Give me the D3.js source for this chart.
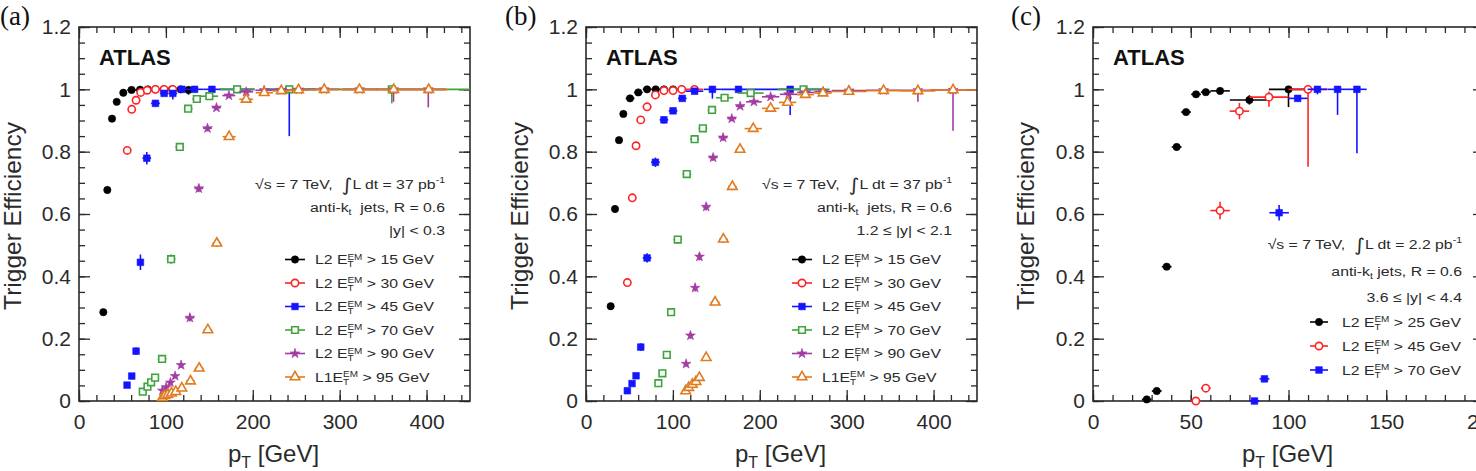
<!DOCTYPE html>
<html><head><meta charset="utf-8">
<script src="https://cdn.jsdelivr.net/npm/d3@7"></script>
<style>
body{margin:0;background:#fff;}
svg{display:block;font-family:"Liberation Sans",Arial,Helvetica,sans-serif;}
text{white-space:pre;}
</style></head><body>
<svg id="chart" width="1476" height="471"></svg>
<script>
// ---------------- tick labels ----------------
const yTicks = [0, 0.2, 0.4, 0.6, 0.8, 1, 1.2];
const yTickLabels = ["0", "0.2", "0.4", "0.6", "0.8", "1", "1.2"];
const abXTicks = [0, 100, 200, 300, 400];
const abXTickLabels = ["0", "100", "200", "300", "400"];
const cXTicks = [0, 50, 100, 150, 200];
const cXTickLabels = ["0", "50", "100", "150", "200"];

// ---------------- legend ----------------
const abLevels = ["L2", "L2", "L2", "L2", "L2", "L1"];
const abThresholds = [15, 30, 45, 70, 90, 95];
const cLevels = ["L2", "L2", "L2"];
const cThresholds = [25, 45, 70];

// ---------------- panel (a) |y|<0.3 ----------------
const aBlackPt  = [28, 32.6, 38, 43.4, 51, 60.5, 70.3, 79.2, 88, 97.5, 107, 117, 126];
const aBlackEff = [0.285, 0.677, 0.906, 0.960, 0.989, 0.998, 0.999, 1, 1, 1, 1, 1, 0.998];
const aBlackEx  = [2.5, 2.5, 2.5, 2.5, 4, 5, 5, 5, 5, 5, 5, 5, 5];
const aBlackLo  = [0.01, 0.01, 0.008, 0.005, 0.004, 0.002, 0.002, 0, 0, 0, 0, 0, 0.015];
const aBlackHi  = [0.01, 0.01, 0.008, 0.005, 0.004, 0.002, 0.001, 0, 0, 0, 0, 0, 0.002];

const aRedPt  = [55.5, 60.7, 65.7, 71, 78.5, 88, 98, 108];
const aRedEff = [0.804, 0.936, 0.965, 0.990, 0.997, 1, 1, 1];
const aRedEx  = [2.5, 2.5, 2.5, 2.5, 5, 5, 5, 5];
const aRedLo  = [0.012, 0.008, 0.006, 0.004, 0.003, 0.002, 0.002, 0.002];
const aRedHi  = [0.012, 0.008, 0.006, 0.004, 0.003, 0, 0, 0];

const aBluePt  = [55.3, 60.7, 65.7, 70.7, 78, 88, 98, 108, 118.3, 133, 153, 182, 242];
const aBlueEff = [0.051, 0.080, 0.160, 0.445, 0.779, 0.955, 0.987, 0.987, 1, 1, 1, 1, 1];
const aBlueEx  = [2.5, 2.5, 2.5, 2.5, 5, 5, 5, 5, 5, 10, 10, 20, 30];
const aBlueLo  = [0.008, 0.01, 0.012, 0.025, 0.02, 0.01, 0.008, 0.02, 0.004, 0.004, 0.005, 0.005, 0.15];
const aBlueHi  = [0.008, 0.01, 0.012, 0.025, 0.02, 0.01, 0.008, 0.01, 0, 0, 0, 0, 0];

const aGreenPt  = [73.4, 78.8, 83, 87.6, 95.6, 106, 116, 125.6, 135.6, 150, 182, 242, 360];
const aGreenEff = [0.030, 0.046, 0.060, 0.075, 0.135, 0.455, 0.815, 0.938, 0.969, 0.978, 1, 1, 1];
const aGreenEx  = [2.5, 2.5, 2.5, 2.5, 5, 5, 5, 5, 5, 10, 20, 30, 90];
const aGreenLo  = [0.005, 0.006, 0.007, 0.008, 0.01, 0.015, 0.012, 0.008, 0.006, 0.006, 0.004, 0.004, 0.045];
const aGreenHi  = [0.005, 0.006, 0.007, 0.008, 0.01, 0.015, 0.012, 0.008, 0.006, 0.006, 0, 0, 0];

const aPurplePt  = [96, 100.3, 105.2, 110.6, 117.5, 127.6, 137.9, 147.9, 158.2, 172.5, 192.4, 213, 233, 253, 282, 323, 362, 402];
const aPurpleEff = [0.033, 0.044, 0.059, 0.080, 0.115, 0.267, 0.682, 0.875, 0.941, 0.980, 0.992, 0.997, 0.998, 0.999, 1, 1, 1, 1];
const aPurpleEx  = [2, 2, 2.5, 2.5, 2.5, 5, 5, 5, 5, 7.5, 8, 10, 10, 10, 18, 20, 20, 20];
const aPurpleLo  = [0.005, 0.005, 0.006, 0.007, 0.008, 0.012, 0.012, 0.01, 0.008, 0.006, 0.005, 0.004, 0.004, 0.004, 0.004, 0.004, 0.04, 0.058];
const aPurpleHi  = [0.005, 0.005, 0.006, 0.007, 0.008, 0.012, 0.012, 0.01, 0.008, 0.006, 0.005, 0.003, 0.002, 0.001, 0, 0, 0, 0];

const aOrangePt  = [96, 98.7, 102.2, 106.4, 111.4, 118.3, 128.3, 138.3, 148.3, 158.6, 172.8, 192.4, 213.2, 232.8, 252.7, 282.3, 322.7, 362.2, 402.5];
const aOrangeEff = [0.011, 0.017, 0.020, 0.025, 0.030, 0.041, 0.064, 0.105, 0.228, 0.506, 0.848, 0.968, 0.989, 0.995, 0.998, 0.999, 0.999, 0.999, 0.999];
const aOrangeEx  = [1.5, 1.5, 2, 2, 2.5, 2.5, 5, 5, 5, 5, 7.5, 8, 10, 10, 12, 17, 21, 20, 21.5];
const aOrangeLo  = [0.003, 0.003, 0.003, 0.004, 0.004, 0.005, 0.006, 0.008, 0.01, 0.012, 0.01, 0.006, 0.004, 0.003, 0.002, 0.002, 0.002, 0.002, 0.002];
const aOrangeHi  = [0.003, 0.003, 0.003, 0.004, 0.004, 0.005, 0.006, 0.008, 0.01, 0.012, 0.01, 0.006, 0.004, 0.003, 0.002, 0.001, 0.001, 0.001, 0.001];

// ---------------- panel (b) 1.2<=|y|<2.1 ----------------
const bBlackPt  = [28.4, 33.4, 38, 43, 50.7, 60.2, 70.3, 80.2, 89.7, 100.2, 110.2];
const bBlackEff = [0.304, 0.616, 0.837, 0.921, 0.971, 0.990, 1, 1, 1, 1, 1];
const bBlackEx  = [2.5, 2.5, 2.5, 2.5, 5, 5, 5, 5, 5, 5, 5];
const bBlackLo  = [0.01, 0.01, 0.008, 0.006, 0.004, 0.003, 0.002, 0, 0, 0, 0];
const bBlackHi  = [0.01, 0.01, 0.008, 0.006, 0.004, 0.003, 0, 0, 0, 0, 0];

const bRedPt  = [47.6, 53.3, 57.6, 63, 70.3, 79.9, 89.7, 100.2, 110.2, 124.8];
const bRedEff = [0.380, 0.652, 0.819, 0.902, 0.944, 0.982, 0.996, 0.996, 1, 1];
const bRedEx  = [2.5, 2.5, 2.5, 2.5, 5, 5, 5, 5, 5, 10];
const bRedLo  = [0.012, 0.012, 0.01, 0.008, 0.006, 0.004, 0.003, 0.003, 0.002, 0.002];
const bRedHi  = [0.012, 0.012, 0.01, 0.008, 0.006, 0.004, 0.003, 0.003, 0, 0];

const bBluePt  = [47.6, 53, 57.6, 63, 70.3, 79.9, 89.7, 100.2, 110.8, 125, 145.5, 175.5, 235];
const bBlueEff = [0.033, 0.056, 0.081, 0.173, 0.459, 0.766, 0.902, 0.931, 0.971, 0.994, 1, 1, 1];
const bBlueEx  = [2.5, 2.5, 2.5, 2.5, 5, 5, 5, 5, 5, 10, 10, 20, 40];
const bBlueLo  = [0.005, 0.006, 0.008, 0.012, 0.015, 0.015, 0.012, 0.01, 0.008, 0.006, 0.03, 0.012, 0.082];
const bBlueHi  = [0.005, 0.006, 0.008, 0.012, 0.015, 0.015, 0.012, 0.01, 0.008, 0.004, 0, 0, 0];

const bGreenPt  = [83.3, 87.9, 93, 97.9, 105.6, 116, 125, 134.5, 145, 159.5, 189.5, 250.4];
const bGreenEff = [0.057, 0.089, 0.148, 0.285, 0.518, 0.728, 0.840, 0.875, 0.934, 0.973, 0.988, 1];
const bGreenEx  = [2, 2.5, 2.5, 2.5, 5, 5, 5, 5, 5, 10, 15, 30];
const bGreenLo  = [0.006, 0.007, 0.009, 0.012, 0.012, 0.012, 0.01, 0.01, 0.008, 0.006, 0.004, 0.004];
const bGreenHi  = [0.006, 0.007, 0.009, 0.012, 0.012, 0.012, 0.01, 0.01, 0.008, 0.006, 0.004, 0];

const bPurplePt  = [115.2, 120.2, 125.6, 130.6, 138.3, 146.3, 157.8, 167.8, 177.4, 193.2, 212.5, 233.2, 253, 273, 303, 342.5, 382, 422.4];
const bPurpleEff = [0.119, 0.210, 0.363, 0.463, 0.623, 0.781, 0.845, 0.906, 0.946, 0.960, 0.976, 0.984, 0.990, 0.993, 0.996, 0.997, 0.997, 0.998];
const bPurpleEx  = [2, 2.5, 2.5, 2.5, 4, 5, 5, 5, 5, 9, 10, 10, 10, 10, 20, 20, 20, 26];
const bPurpleLo  = [0.008, 0.01, 0.012, 0.012, 0.012, 0.01, 0.01, 0.008, 0.006, 0.006, 0.005, 0.005, 0.004, 0.004, 0.003, 0.003, 0.037, 0.131];
const bPurpleHi  = [0.008, 0.01, 0.012, 0.012, 0.012, 0.01, 0.01, 0.008, 0.006, 0.006, 0.005, 0.005, 0.004, 0.004, 0.003, 0.003, 0.003, 0.002];

const bOrangePt  = [114.7, 118.2, 122.4, 126.6, 130.5, 138.3, 148.6, 158.1, 168.4, 177.3, 192.5, 212.5, 232, 252.5, 272.7, 302.5, 342.5, 382, 422.5];
const bOrangeEff = [0.032, 0.043, 0.053, 0.062, 0.075, 0.139, 0.317, 0.519, 0.688, 0.807, 0.874, 0.939, 0.958, 0.983, 0.988, 0.993, 0.996, 0.995, 0.998];
const bOrangeEx  = [1.5, 1.5, 2, 2, 2, 4, 5, 5, 5, 5, 10, 10, 10, 10, 10, 20, 20, 20, 26.5];
const bOrangeLo  = [0.004, 0.005, 0.005, 0.006, 0.006, 0.008, 0.01, 0.012, 0.012, 0.01, 0.008, 0.006, 0.005, 0.004, 0.004, 0.003, 0.003, 0.003, 0.003];
const bOrangeHi  = [0.004, 0.005, 0.005, 0.006, 0.006, 0.008, 0.01, 0.012, 0.012, 0.01, 0.008, 0.006, 0.005, 0.004, 0.004, 0.003, 0.003, 0.003, 0.002];

// ---------------- panel (c) 3.6<=|y|<4.4 ----------------
const cBlackPt  = [27.5, 32.6, 37.7, 42.8, 47.6, 52.7, 57.7, 65, 80, 100];
const cBlackEff = [0.005, 0.032, 0.431, 0.815, 0.927, 0.984, 0.991, 0.995, 0.966, 1.0];
const cBlackEx  = [2.5, 2.5, 2.5, 2.5, 2.5, 2.5, 2.5, 5, 10, 10];
const cBlackLo  = [0.003, 0.005, 0.008, 0.008, 0.007, 0.005, 0.005, 0.005, 0.015, 0.057];
const cBlackHi  = [0.003, 0.005, 0.008, 0.008, 0.007, 0.005, 0.004, 0.004, 0.015, 0];

const cRedPt  = [52.6, 57.7, 65, 74.9, 90, 110];
const cRedEff = [0, 0.041, 0.611, 0.930, 0.975, 1.0];
const cRedEx  = [2.5, 2.5, 5, 5, 10, 10];
const cRedLo  = [0, 0.006, 0.028, 0.026, 0.031, 0.248];
const cRedHi  = [0.003, 0.006, 0.028, 0.026, 0.018, 0];

const cBluePt  = [82.6, 87.7, 95.2, 104.7, 114.8, 125.1, 135];
const cBlueEff = [0, 0.071, 0.604, 0.971, 1, 1, 1];
const cBlueEx  = [2.5, 2.5, 5, 5, 5, 5, 5];
const cBlueLo  = [0, 0.008, 0.025, 0.01, 0.016, 0.082, 0.205];
const cBlueHi  = [0.003, 0.008, 0.025, 0.01, 0, 0, 0];

// ---------------- styles ----------------
const seriesColors = ["#000000", "#ff2424", "#1414ff", "#3ea43e", "#a23ca2", "#e07b1e"];
const seriesShapes = ["circle", "circle", "square", "square", "star", "triangle"];
const seriesFilled = [true, false, true, false, true, false];

const svg = d3.select("#chart");
const TOP = 27, BOTTOM = 401, PW = 391;
const INK = "#2a2a2a";

const shapeMap = {circle: d3.symbolCircle, square: d3.symbolSquare, star: d3.symbolStar, triangle: d3.symbolTriangle};
const shapeSize = {circle: 42, square: 44, star: 30, triangle: 40};

function marker(sel, k) {
  const shape = seriesShapes[k];
  sel.attr("d", d3.symbol().type(shapeMap[shape]).size(shapeSize[shape])())
    .attr("fill", seriesFilled[k] ? seriesColors[k] : "#fff")
    .attr("stroke", seriesColors[k])
    .attr("stroke-width", seriesFilled[k] ? 0.6 : 1.6);
}

function drawSeries(g, x, y, s, k) {
  const idx = d3.range(s.pt.length);
  const col = seriesColors[k];
  const sg = g.append("g");
  sg.selectAll(null).data(idx).enter().append("line")
    .attr("x1", i => x(s.pt[i] - s.ex[i])).attr("x2", i => x(s.pt[i] + s.ex[i]))
    .attr("y1", i => y(s.eff[i])).attr("y2", i => y(s.eff[i]))
    .attr("stroke", col).attr("stroke-width", 1.6);
  sg.selectAll(null).data(idx).enter().append("line")
    .attr("x1", i => x(s.pt[i])).attr("x2", i => x(s.pt[i]))
    .attr("y1", i => y(s.eff[i] - s.lo[i])).attr("y2", i => y(s.eff[i] + s.hi[i]))
    .attr("stroke", col).attr("stroke-width", 1.6);
  sg.selectAll(null).data(idx).enter().append("path")
    .attr("transform", i => `translate(${x(s.pt[i])},${y(s.eff[i])})`)
    .call(marker, k);
}

function stretchedText(parent, x, y, anchor) {
  return parent.append("g").attr("transform", `translate(${x},${y}) scale(1.17,1)`)
    .append("text").attr("text-anchor", anchor).attr("font-size", 13.5).attr("fill", INK);
}

function drawPanel(cfg) {
  const g = svg.append("g");
  const L = cfg.left;
  const x = d3.scaleLinear().domain([0, cfg.xMax]).range([L, L + PW]);
  const y = d3.scaleLinear().domain([0, 1.2]).range([BOTTOM, TOP]);
  const yMinor = d3.range(0, 1.2001, 0.05);
  const xMinor = d3.range(0, cfg.xMax + 0.001, cfg.xMinorStep);

  const axes = g.append("g").attr("class", "axes");
  const fmtX = d => cfg.xLabels[cfg.xTicks.indexOf(d)];
  const fmtY = d => yTickLabels[yTicks.indexOf(d)];
  axes.append("g").attr("transform", `translate(0,${BOTTOM})`)
    .call(d3.axisBottom(x).tickValues(cfg.xTicks).tickFormat(fmtX).tickSizeInner(-11).tickSizeOuter(0).tickPadding(13));
  axes.append("g").attr("transform", `translate(0,${BOTTOM})`)
    .call(d3.axisBottom(x).tickValues(xMinor).tickFormat("").tickSizeInner(-6).tickSizeOuter(0));
  axes.append("g").attr("transform", `translate(0,${TOP})`)
    .call(d3.axisTop(x).tickValues(cfg.xTicks).tickFormat("").tickSizeInner(-11).tickSizeOuter(0));
  axes.append("g").attr("transform", `translate(0,${TOP})`)
    .call(d3.axisTop(x).tickValues(xMinor).tickFormat("").tickSizeInner(-6).tickSizeOuter(0));
  axes.append("g").attr("transform", `translate(${L},0)`)
    .call(d3.axisLeft(y).tickValues(yTicks).tickFormat(fmtY).tickSizeInner(-11).tickSizeOuter(0).tickPadding(8));
  axes.append("g").attr("transform", `translate(${L},0)`)
    .call(d3.axisLeft(y).tickValues(yMinor).tickFormat("").tickSizeInner(-6).tickSizeOuter(0));
  axes.append("g").attr("transform", `translate(${L + PW},0)`)
    .call(d3.axisRight(y).tickValues(yTicks).tickFormat("").tickSizeInner(-11).tickSizeOuter(0));
  axes.append("g").attr("transform", `translate(${L + PW},0)`)
    .call(d3.axisRight(y).tickValues(yMinor).tickFormat("").tickSizeInner(-6).tickSizeOuter(0));
  axes.selectAll(".domain").remove();
  axes.selectAll(".tick line").attr("stroke", INK).attr("stroke-width", 1.3);
  axes.selectAll(".tick text").attr("font-size", 21).attr("fill", INK)
    .attr("font-family", "'Liberation Sans', Arial, sans-serif");
  g.append("rect").attr("x", L).attr("y", TOP).attr("width", PW).attr("height", BOTTOM - TOP)
    .attr("fill", "none").attr("stroke", INK).attr("stroke-width", 1.6);

  // axis titles
  g.append("text").attr("transform", `translate(${cfg.yTitleX},122) rotate(-90)`)
    .attr("text-anchor", "end").attr("font-size", 24.5).attr("fill", INK).text("Trigger Efficiency");
  const xt = g.append("text").attr("x", L + PW / 2 - 1).attr("y", 462)
    .attr("text-anchor", "middle").attr("font-size", 24).attr("fill", INK);
  xt.append("tspan").text("p");
  xt.append("tspan").attr("font-size", 16).attr("dy", 6).text("T");
  xt.append("tspan").attr("dy", -6).text(" [GeV]");

  // panel letter
  g.append("text").attr("x", cfg.letterX).attr("y", 25).attr("font-size", 27)
    .attr("font-family", "'Liberation Serif', 'Times New Roman', serif").attr("fill", "#111").text(cfg.letter);

  // ATLAS
  g.append("text").attr("x", L + 20).attr("y", 65).attr("font-size", 22).attr("font-weight", "bold")
    .attr("fill", "#111").text("ATLAS");

  // annotations
  const ax = L + cfg.annoRight;
  const t1 = stretchedText(g, ax, cfg.annoY[0], "end");
  t1.append("tspan").text("\u221As = 7 TeV,  ");
  t1.append("tspan").attr("font-size", 18).attr("dy", 2).attr("font-family", "'DejaVu Sans', sans-serif").text("\u222B");
  t1.append("tspan").attr("dy", -2).text("L dt = " + cfg.lumi + " pb");
  t1.append("tspan").attr("font-size", 9).attr("dy", -6).text("-1");
  const t2 = stretchedText(g, ax, cfg.annoY[1], "end");
  t2.append("tspan").text("anti-k");
  t2.append("tspan").attr("font-size", 9).attr("dy", 3).text("t");
  t2.append("tspan").attr("dy", -3).text(cfg.jetsGap + "jets, R = 0.6");
  const t3 = stretchedText(g, ax, cfg.annoY[2], "end");
  t3.text(cfg.rapidity);

  // series
  cfg.series.forEach((s, k) => drawSeries(g, x, y, s, k));

  // legend
  cfg.levels.forEach((lev, k) => {
    const by = cfg.legY0 + k * cfg.legDy;
    const my = by - 4.5;
    g.append("line").attr("x1", L + cfg.legLine[0]).attr("x2", L + cfg.legLine[1])
      .attr("y1", my).attr("y2", my).attr("stroke", seriesColors[k]).attr("stroke-width", 1.6);
    g.append("path").attr("transform", `translate(${L + (cfg.legLine[0] + cfg.legLine[1]) / 2},${my})`).call(marker, k);
    const tt = stretchedText(g, L + cfg.legText, by, "start");
    tt.append("tspan").text(lev + (lev === "L1" ? "" : " ") + "E");
    tt.append("tspan").attr("font-size", 8.5).attr("dy", 3).text("T");
    tt.append("tspan").attr("font-size", 8.5).attr("dx", -5.2).attr("dy", -7.5).text("EM");
    tt.append("tspan").attr("dy", 4.5).text(" > " + cfg.thresholds[k] + " GeV");
  });
}

const mk = (pt, eff, ex, lo, hi) => ({pt, eff, ex, lo, hi});

drawPanel({
  left: 79, xMax: 450, xTicks: abXTicks, xLabels: abXTickLabels, xMinorStep: 20,
  yTitleX: 21, letter: "(a)", letterX: 0, lumi: "37", jetsGap: "  ", rapidity: "|y| < 0.3",
  annoRight: 366, annoY: [189, 212, 235],
  levels: abLevels, thresholds: abThresholds, legY0: 264, legDy: 23.5, legLine: [206, 226], legText: 236,
  series: [
    mk(aBlackPt, aBlackEff, aBlackEx, aBlackLo, aBlackHi),
    mk(aRedPt, aRedEff, aRedEx, aRedLo, aRedHi),
    mk(aBluePt, aBlueEff, aBlueEx, aBlueLo, aBlueHi),
    mk(aGreenPt, aGreenEff, aGreenEx, aGreenLo, aGreenHi),
    mk(aPurplePt, aPurpleEff, aPurpleEx, aPurpleLo, aPurpleHi),
    mk(aOrangePt, aOrangeEff, aOrangeEx, aOrangeLo, aOrangeHi)
  ]
});

drawPanel({
  left: 586, xMax: 450, xTicks: abXTicks, xLabels: abXTickLabels, xMinorStep: 20,
  yTitleX: 528, letter: "(b)", letterX: 505, lumi: "37", jetsGap: "  ", rapidity: "1.2 \u2264 |y| < 2.1",
  annoRight: 366, annoY: [189, 212, 235],
  levels: abLevels, thresholds: abThresholds, legY0: 264, legDy: 23.5, legLine: [206, 226], legText: 236,
  series: [
    mk(bBlackPt, bBlackEff, bBlackEx, bBlackLo, bBlackHi),
    mk(bRedPt, bRedEff, bRedEx, bRedLo, bRedHi),
    mk(bBluePt, bBlueEff, bBlueEx, bBlueLo, bBlueHi),
    mk(bGreenPt, bGreenEff, bGreenEx, bGreenLo, bGreenHi),
    mk(bPurplePt, bPurpleEff, bPurpleEx, bPurpleLo, bPurpleHi),
    mk(bOrangePt, bOrangeEff, bOrangeEx, bOrangeLo, bOrangeHi)
  ]
});

drawPanel({
  left: 1093, xMax: 200, xTicks: cXTicks, xLabels: cXTickLabels, xMinorStep: 10,
  yTitleX: 1034, letter: "(c)", letterX: 1011, lumi: "2.2", jetsGap: " ", rapidity: "3.6 \u2264 |y| < 4.4",
  annoRight: 369, annoY: [249, 276, 302],
  levels: cLevels, thresholds: cThresholds, legY0: 326.5, legDy: 24, legLine: [217, 235], legText: 249,
  series: [
    mk(cBlackPt, cBlackEff, cBlackEx, cBlackLo, cBlackHi),
    mk(cRedPt, cRedEff, cRedEx, cRedLo, cRedHi),
    mk(cBluePt, cBlueEff, cBlueEx, cBlueLo, cBlueHi)
  ]
});
</script>
</body></html>
